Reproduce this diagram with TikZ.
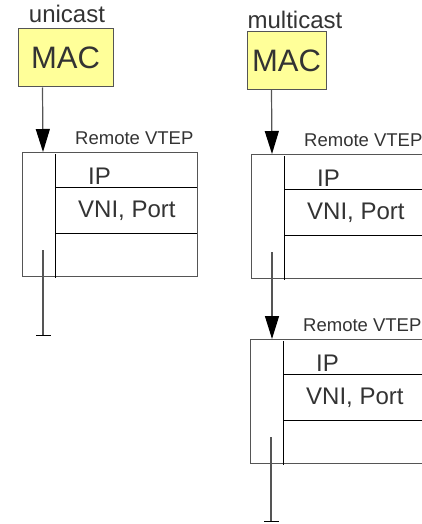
\documentclass[tikz,border=0pt]{standalone}
\usepackage{fontspec}
\setmainfont{Liberation Sans}
\usepackage{tikz}
\usetikzlibrary{arrows.meta}
\usetikzlibrary{positioning}
\definecolor{macyellow}{HTML}{FFFF99}
\definecolor{txtgray}{HTML}{333333}
\definecolor{linegray}{HTML}{555555}

\begin{document}
\begin{tikzpicture}[x=1pt,y=-1pt,
    every node/.style={text=txtgray,inner sep=0pt},
    mac/.style={draw=linegray,line width=1pt,fill=macyellow,minimum height=58pt,font=\fontsize{31}{31}\selectfont},
    head/.style={font=\fontsize{24}{26}\selectfont},
    vtep/.style={draw=linegray,line width=1pt,anchor=north west,minimum height=124pt},
    gridline/.style={draw=black,line width=0.9pt},
    cell/.style={anchor=west,font=\fontsize{24}{26}\selectfont},
    vteptitle/.style={anchor=base west,font=\fontsize{18.5}{20}\selectfont},
    feed/.style={draw=linegray,line width=1.2pt,-{Triangle[length=23pt,width=14pt,color=black]}},
    stub/.style={draw=linegray,line width=1.2pt,-{Bar[width=15pt,color=black,line width=1.5pt]}}]
        \useasboundingbox (0,0) rectangle (421,524);

        \foreach \n/\x/\y/\w in {a/22/152/175, b/251/154/200, c/250/339/200}{
            \node[vtep,minimum width=\w pt] (\n) at (\x,\y) {};
            \draw[gridline] (\x+33,\y+2) -- (\x+33,\y+126);
            \draw[gridline] (\x+33,\y+35) -- (\x+\w,\y+35);
            \draw[gridline] (\x+33,\y+81) -- (\x+\w,\y+81);
            \node[cell] (\n-ip) at (\x+66,\y+24) {IP};
            \node[cell] (\n-vni) at (\x+56,\y+59) {VNI, Port};
            \node[vteptitle] (\n-title) at (\x+53,\y-8) {Remote VTEP};
            \coordinate (\n-in) at (\x+21,\y+98);
          }

        \node[mac,minimum width=95pt] (mac-u) at (65.5,58) {MAC};
        \node[mac,minimum width=79pt] (mac-m) at (286.5,60.5) {MAC};
        \node[head,above=6pt of mac-u,xshift=1.5pt] (lbl-u) {unicast};
        \node[head,above=2pt of mac-m,xshift=8.5pt] (lbl-m) {multicast};

        \coordinate (a-end) at (43,336);
        \coordinate (c-end) at (271,522);

        \draw[feed] ([xshift=25pt]mac-u.south west) -- ([xshift=21pt]a.north west);
        \draw[feed] ([xshift=25pt]mac-m.south west) -- ([xshift=21pt]b.north west);
        \draw[feed] (b-in) -- (b-in |- c.north);
        \draw[stub] (a-in) -- (a-end);
        \draw[stub] (c-in) -- (c-end);
        \end{tikzpicture}
\end{document}
